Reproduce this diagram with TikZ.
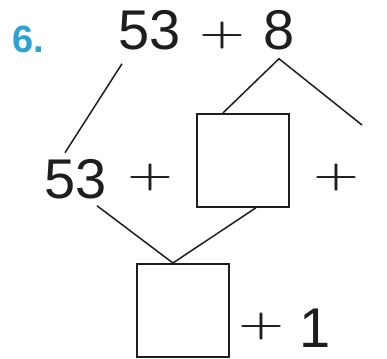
\documentclass[tikz,border=0pt]{standalone}
\usepackage{fontspec}
\usepackage{graphicx}
\setmainfont{Liberation Sans}
\newfontfamily\lmplusfont{Latin Modern Roman}
\definecolor{sixblue}{RGB}{45,160,212}
\definecolor{ink}{RGB}{30,30,30}
\newcommand{\pluschar}{\scalebox{1.05}[0.72]{\lmplusfont\fontsize{50}{56}\selectfont\bfseries +}}
\tikzset{
  num/.style={inner sep=0pt, anchor=base, text=ink, font=\fontsize{56}{60}\selectfont},
  plussign/.style={inner sep=0pt, anchor=center, text=ink},
  blank/.style={draw=ink, line width=1.8pt, minimum width=92pt, minimum height=93pt, inner sep=0pt, anchor=north west},
  link/.style={draw=ink, line width=1.5pt}
}
\begin{document}
\begin{tikzpicture}[x=1pt,y=1pt]
\useasboundingbox (0,0) rectangle (387,358);
% problem number
\node[inner sep=0pt, anchor=base west, text=sixblue, font=\fontsize{38}{42}\selectfont\bfseries] (six) at (12,305) {6.};
% top row
\node[num] (t53) at (150,308) {53};
\node[plussign] (tp) at (222,322) {\pluschar};
\node[num] (t8) at (279,308) {8};
% middle row
\node[num] (m53) at (76,159) {53};
\node[plussign] (mp1) at (150,180) {\pluschar};
\node[blank] (box1) at (196,245) {};
\node[plussign] (mp2) at (336,180) {\pluschar};
% bottom row
\node[blank] (box2) at (136,95) {};
\node[plussign] (bp) at (261,31) {\pluschar};
\node[num] (one) at (315,11) {1};
\coordinate (r1) at (362,233);
% connectors
\draw[link] ([shift={(-28,-13)}]t53.south) -- ([shift={(-11,7)}]m53.north);
\draw[link] ([xshift=-20]box1.north) -- ([yshift=-8]t8.south) -- (r1);
\draw[link] ([shift={(21,-6)}]m53.south) -- ([xshift=-10]box2.north) -- ([xshift=13]box1.south);
\end{tikzpicture}
\end{document}
